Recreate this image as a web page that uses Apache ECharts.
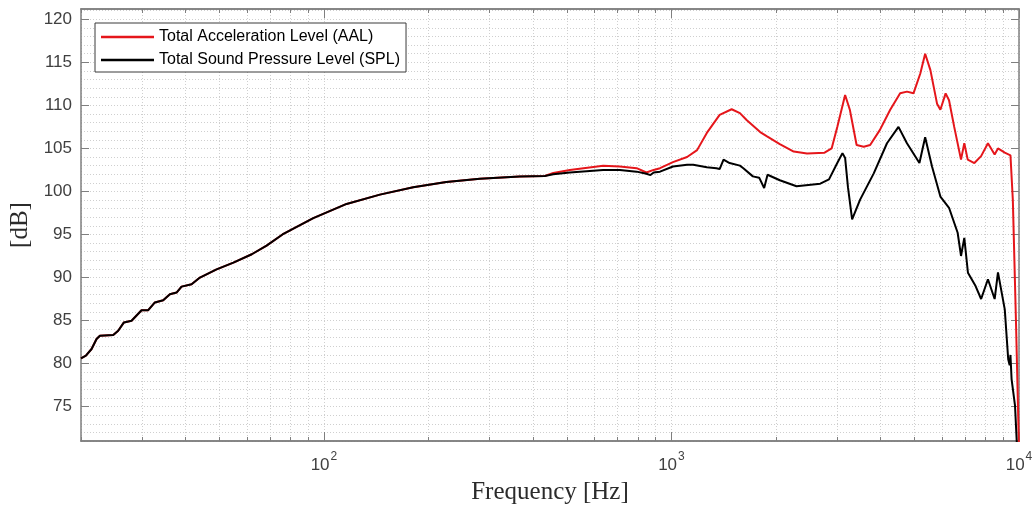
<!DOCTYPE html>
<html>
<head>
<meta charset="utf-8">
<script src="https://cdn.jsdelivr.net/npm/echarts@6/dist/echarts.min.js"></script>
<style>
html,body{margin:0;padding:0;background:#fff;}
#chart{width:1034px;height:506px;}
</style>
</head>
<body>
<div id="chart"></div>
<script>
// ---- data ----
const seriesNames = ['Total Acceleration Level (AAL)', 'Total Sound Pressure Level (SPL)'];

// shared low-frequency part (both curves coincide)
const freqLow = [20, 20.66, 21.45, 22.17, 22.67, 24.76, 25.59, 26.58, 27.96, 29.87, 31.22, 32.63, 34.48, 36.04, 37.67, 38.94, 41.61, 43.98, 49.1, 54.9, 62, 68.4, 76, 93.2, 116.2, 144.9, 180.7, 225, 281, 366, 432];
const levelLow = [80.61, 80.92, 81.69, 82.85, 83.23, 83.31, 83.81, 84.78, 84.97, 86.2, 86.2, 87.1, 87.36, 88.06, 88.25, 88.94, 89.21, 89.99, 90.95, 91.72, 92.7, 93.7, 95.0, 96.9, 98.55, 99.63, 100.48, 101.1, 101.48, 101.75, 101.8];

// AAL above 432 Hz
const freqAAL = [457, 510, 636, 710, 794, 847, 889, 927, 1010, 1109, 1185, 1264, 1376, 1490, 1574, 1645, 1800, 1884, 1900, 2050, 2248, 2455, 2758, 2890, 3000, 3160, 3260, 3410, 3575, 3730, 3980, 4260, 4550, 4760, 4970, 5200, 5370, 5560, 5810, 5940, 6150, 6290, 6510, 6810, 6960, 7120, 7440, 7780, 8140, 8510, 8700, 9100, 9450, 9600, 9800, 10000];
const aalHigh = [102.14, 102.5, 102.98, 102.9, 102.7, 102.2, 102.5, 102.7, 103.4, 104.0, 104.8, 106.8, 108.9, 109.55, 109.1, 108.3, 106.9, 106.4, 106.6, 105.5, 104.64, 104.4, 104.5, 105.0, 107.5, 111.2, 109.5, 105.4, 105.2, 105.4, 107.15, 109.5, 111.4, 111.6, 111.4, 113.7, 116.0, 114.1, 110.2, 109.5, 111.4, 110.6, 107.5, 103.7, 105.6, 103.7, 103.3, 104.1, 105.6, 104.3, 105.0, 104.5, 104.2, 99.0, 85.0, 70.0];

// SPL above 432 Hz
const freqSPL = [457, 510, 636, 710, 794, 847, 870, 889, 927, 1010, 1109, 1155, 1264, 1347, 1376, 1412, 1470, 1574, 1610, 1715, 1788, 1848, 1870, 1890, 2050, 2290, 2680, 2840, 3000, 3105, 3160, 3220, 3310, 3490, 3820, 4170, 4500, 4760, 5170, 5370, 5620, 5940, 6290, 6660, 6810, 6960, 7130, 7500, 7780, 8140, 8510, 8700, 9100, 9310, 9400, 9450, 9520, 9740, 9850, 9950];
const splHigh = [102.0, 102.2, 102.5, 102.5, 102.3, 102.05, 101.9, 102.2, 102.3, 102.9, 103.1, 103.1, 102.8, 102.7, 102.6, 103.7, 103.3, 103.0, 102.7, 101.75, 101.6, 100.4, 100.6, 101.94, 101.3, 100.6, 100.9, 101.4, 103.3, 104.45, 103.9, 100.5, 96.75, 99.05, 102.1, 105.6, 107.5, 105.6, 103.3, 106.3, 102.9, 99.4, 98.1, 95.2, 92.5, 94.6, 90.55, 89.0, 87.5, 89.8, 87.5, 90.6, 86.3, 80.5, 79.8, 81.0, 78.2, 75.1, 71.0, 60.0];

// axis ticks
const yMajorTicks = [75, 80, 85, 90, 95, 100, 105, 110, 115, 120];
const xMajorTicks = [100, 1000, 10000];
const xMinorTicks = [20, 30, 40, 50, 60, 70, 80, 90, 200, 300, 400, 500, 600, 700, 800, 900, 2000, 3000, 4000, 5000, 6000, 7000, 8000, 9000];

// ---- build ----
function pairs(fs, vs) { return fs.map((f, i) => [f, vs[i]]); }
const aalData = pairs(freqLow, levelLow).concat(pairs(freqAAL, aalHigh));
const splData = pairs(freqLow, levelLow).concat(pairs(freqSPL, splHigh));

const X_MIN = 20, X_MAX = 10000, Y_MIN = 71, Y_MAX = 121.2;
const axisColor = '#7f7f7f';
const labelColor = '#404040';
const gridColor = '#cfcfcf';
const sans = 'Liberation Sans, Arial, Helvetica, sans-serif';
const serif = 'Liberation Serif, Times New Roman, serif';

const chart = echarts.init(document.getElementById('chart'), null, {renderer: 'canvas'});

function xAxisBase(pos) {
  return {
    type: 'log', logBase: 10, min: X_MIN, max: X_MAX, position: pos,
    axisLine: {show: true, onZero: false, lineStyle: {color: axisColor, width: 1.5}},
    axisLabel: {show: false},
    splitLine: {show: false},
    minorTick: {show: false},
    minorSplitLine: {show: false}
  };
}
function yAxisBase(pos) {
  return {
    type: 'value', min: Y_MIN, max: Y_MAX, position: pos,
    axisLine: {show: true, onZero: false, lineStyle: {color: axisColor, width: 1.5}},
    axisLabel: {show: false},
    axisTick: {show: true, inside: true, length: 8, customValues: yMajorTicks, lineStyle: {color: axisColor, width: 1}},
    splitLine: {show: false}
  };
}

const option = {
  animation: false,
  backgroundColor: '#ffffff',
  grid: {left: 81, right: 15, top: 9, bottom: 65, containLabel: false, outerBoundsMode: 'none'},
  legend: {
    show: true,
    data: seriesNames,
    orient: 'vertical',
    left: 95, top: 23,
    padding: [6, 6, 4, 6],
    itemGap: 7,
    itemWidth: 53, itemHeight: 2.5,
    icon: 'rect',
    selectedMode: false,
    backgroundColor: '#ffffff',
    borderColor: '#3a3a3a', borderWidth: 1,
    textStyle: {fontSize: 16, color: '#000', fontFamily: sans}
  },
  xAxis: [
    Object.assign(xAxisBase('bottom'), {
      name: 'Frequency [Hz]', nameLocation: 'middle', nameGap: 39,
      nameTextStyle: {fontFamily: serif, fontSize: 25, color: '#2b2b2b'},
      axisTick: {show: true, inside: true, length: 9, customValues: xMajorTicks, lineStyle: {color: axisColor, width: 1}},
      axisLabel: {
        show: true, margin: 10, customValues: xMajorTicks, color: labelColor,
        formatter: function (v) { return '{b|10}{s|' + Math.round(Math.log10(v)) + '}'; },
        rich: {
          b: {fontSize: 17, fontFamily: sans, color: labelColor, lineHeight: 28},
          s: {fontSize: 12, fontFamily: sans, color: labelColor, verticalAlign: 'top', lineHeight: 12, padding: [0, 0, 0, 1]}
        }
      },
      splitLine: {show: true, lineStyle: {color: gridColor, type: [1, 2], width: 1}}
    }),
    Object.assign(xAxisBase('bottom'), {
      axisTick: {show: true, inside: true, length: 4, customValues: xMinorTicks, lineStyle: {color: axisColor, width: 1}},
      splitLine: {show: true, lineStyle: {color: gridColor, type: [1, 2], width: 1}}
    }),
    Object.assign(xAxisBase('top'), {
      axisTick: {show: true, inside: true, length: 9, customValues: xMajorTicks, lineStyle: {color: axisColor, width: 1}}
    }),
    Object.assign(xAxisBase('top'), {
      axisTick: {show: true, inside: true, length: 4, customValues: xMinorTicks, lineStyle: {color: axisColor, width: 1}}
    })
  ],
  yAxis: [
    Object.assign(yAxisBase('left'), {
      name: '[dB]', nameLocation: 'middle', nameGap: 43, nameRotate: 90,
      nameTextStyle: {fontFamily: serif, fontSize: 25, color: '#2b2b2b'},
      axisLabel: {show: true, margin: 9, customValues: yMajorTicks, fontSize: 17, fontFamily: sans, color: labelColor}
    }),
    yAxisBase('right'),
    {
      type: 'value', min: Y_MIN, max: Y_MAX, interval: 1, position: 'left',
      axisLine: {show: false}, axisTick: {show: false}, axisLabel: {show: false},
      splitLine: {show: true, lineStyle: {color: gridColor, type: [1, 2], width: 1}}
    }
  ],
  series: [
    {
      name: seriesNames[0], type: 'line', data: aalData,
      xAxisIndex: 0, yAxisIndex: 0,
      showSymbol: false, symbol: 'none', smooth: false, clip: true,
      lineStyle: {color: '#e5161b', width: 2},
      itemStyle: {color: '#e5161b'}
    },
    {
      name: seriesNames[1], type: 'line', data: splData,
      xAxisIndex: 0, yAxisIndex: 0,
      showSymbol: false, symbol: 'none', smooth: false, clip: true,
      lineStyle: {color: '#000000', width: 2},
      itemStyle: {color: '#000000'}
    }
  ]
};
chart.setOption(option);
</script>
</body>
</html>
